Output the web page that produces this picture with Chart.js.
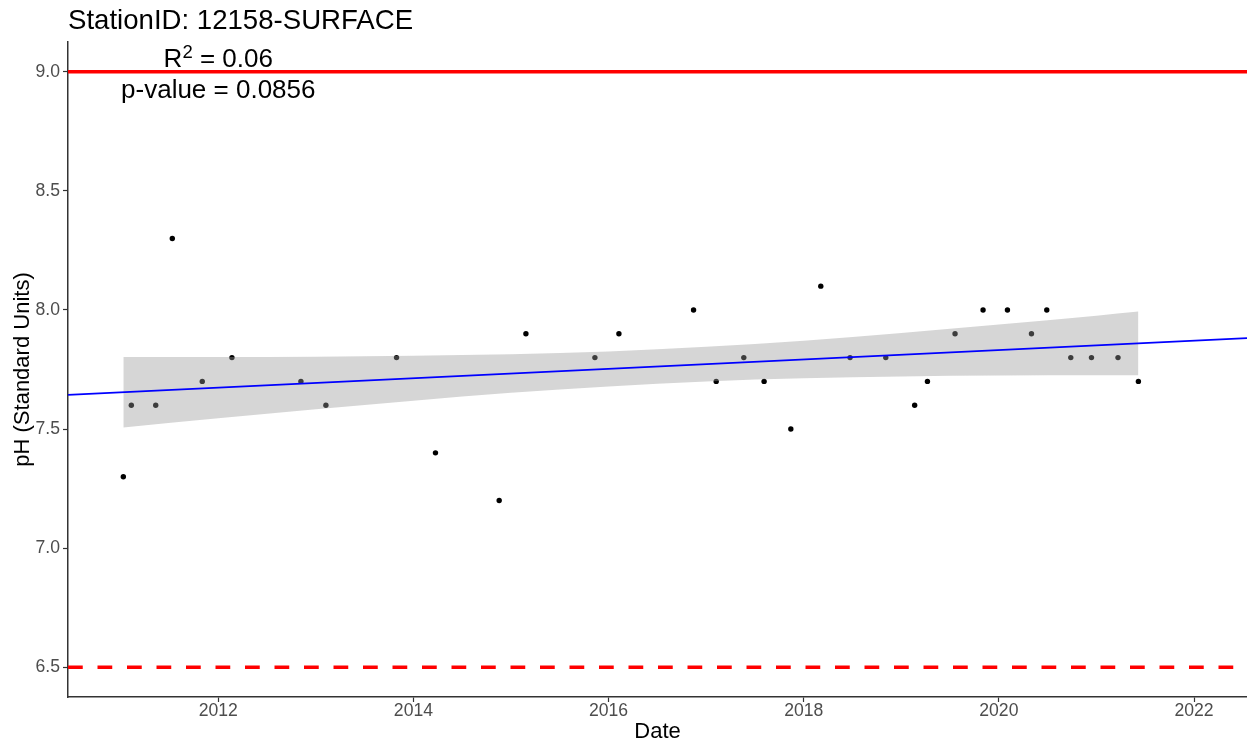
<!DOCTYPE html>
<html>
<head>
<meta charset="utf-8">
<script src="https://cdn.jsdelivr.net/npm/chart.js@4/dist/chart.umd.min.js"></script>
<style>
  html, body { margin: 0; padding: 0; background: #fff; overflow: hidden; }
  #wrap { width: 1247px; height: 748px; position: relative; }
  canvas { display: block; }
</style>
</head>
<body>
<div id="wrap"><canvas id="c" width="1247" height="748"></canvas></div>
<script>
// ---------- data ----------
const titleText = 'StationID: 12158-SURFACE';
const r2Text = '0.06';
const pValueText = '0.0856';
const annotX = 2012;

// sample dates (decimal years) and pH values
const sampleDates = [
  2011.027, 2011.109, 2011.359, 2011.529, 2011.836, 2012.140, 2012.847, 2013.103,
  2013.827, 2014.226, 2014.879, 2015.153, 2015.860, 2016.106, 2016.871, 2017.103,
  2017.386, 2017.594, 2017.868, 2018.175, 2018.475, 2018.841, 2019.137, 2019.268,
  2019.551, 2019.838, 2020.088, 2020.334, 2020.491, 2020.737, 2020.949, 2021.221,
  2021.430
];
const samplePH = [
  7.3, 7.6, 7.6, 8.3, 7.7, 7.8, 7.7, 7.6,
  7.8, 7.4, 7.2, 7.9, 7.8, 7.9, 8.0, 7.7,
  7.8, 7.7, 7.5, 8.1, 7.8, 7.8, 7.6, 7.7,
  7.9, 8.0, 8.0, 7.9, 8.0, 7.8, 7.8, 7.8,
  7.7
];

// regression line (end points read at plot edges)
const fitDates = [2010.46, 2022.543];
const fitPH = [7.6435, 7.8816];

// confidence band
const bandDates = [2011.027, 2012, 2013, 2014, 2015, 2016, 2017, 2018, 2019, 2020, 2021, 2021.43];
const bandUpper = [7.803, 7.803, 7.804, 7.808, 7.814, 7.826, 7.845, 7.871, 7.903, 7.939, 7.976, 7.993];
const bandLower = [7.506, 7.545, 7.583, 7.619, 7.652, 7.679, 7.700, 7.713, 7.721, 7.725, 7.726, 7.726];

// threshold lines
const upperLimit = 9.0;
const lowerLimit = 6.5;

// axes
const xRange = [2010.46, 2022.543];
const yRange = [6.375, 9.125];
const xTicks = [2012, 2014, 2016, 2018, 2020, 2022];
const yTicks = [6.5, 7.0, 7.5, 8.0, 8.5, 9.0];

// ---------- chart ----------
const FONT = '"Liberation Sans", Arial, Helvetica, sans-serif';
const toXY = (xs, ys) => xs.map((x, i) => ({ x: x, y: ys[i] }));

const textPlugin = {
  id: 'texts',
  afterDraw(chart) {
    const ctx = chart.ctx;
    const xs = chart.scales.x;
    ctx.save();
    ctx.fillStyle = '#000';
    ctx.textBaseline = 'alphabetic';
    ctx.textAlign = 'left';
    ctx.font = '27.6px ' + FONT;
    ctx.fillText(titleText, chart.chartArea.left, 29);

    const cx = xs.getPixelForValue(annotX);
    const big = '26px ' + FONT, small = '18.5px ' + FONT;
    ctx.font = big;
    const wR = ctx.measureText('R').width;
    const rest = ' = ' + r2Text;
    const wRest = ctx.measureText(rest).width;
    ctx.font = small;
    const w2 = ctx.measureText('2').width;
    let x0 = cx - (wR + w2 + wRest) / 2;
    const base1 = 67;
    ctx.font = big;
    ctx.fillText('R', x0, base1);
    ctx.font = small;
    ctx.fillText('2', x0 + wR, base1 - 9);
    ctx.font = big;
    ctx.fillText(rest, x0 + wR + w2, base1);

    ctx.textAlign = 'center';
    ctx.fillText('p-value = ' + pValueText, cx, 98);
    ctx.restore();
  }
};

const tickFont = { family: FONT, size: 17.6, lineHeight: 1 };

new Chart(document.getElementById('c'), {
  type: 'line',
  data: {
    datasets: [
      {
        label: 'upper limit', data: toXY(xRange, [upperLimit, upperLimit]),
        borderColor: '#ff0000', borderWidth: 3.6, pointRadius: 0, fill: false, order: 0
      },
      {
        label: 'lower limit', data: toXY(xRange, [lowerLimit, lowerLimit]),
        borderColor: '#ff0000', borderWidth: 3.6, borderDash: [14.75, 14.75], pointRadius: 0, fill: false, order: 0
      },
      {
        label: 'fit', data: toXY(fitDates, fitPH),
        borderColor: '#0000ff', borderWidth: 1.6, pointRadius: 0, fill: false, order: 1
      },
      {
        label: 'band upper', data: toXY(bandDates, bandUpper),
        borderColor: 'rgba(0,0,0,0)', borderWidth: 0, pointRadius: 0,
        backgroundColor: 'rgba(153,153,153,0.4)', fill: '+1',
        cubicInterpolationMode: 'monotone', order: 2
      },
      {
        label: 'band lower', data: toXY(bandDates, bandLower),
        borderColor: 'rgba(0,0,0,0)', borderWidth: 0, pointRadius: 0, fill: false,
        cubicInterpolationMode: 'monotone', order: 2
      },
      {
        label: 'pH', data: toXY(sampleDates, samplePH),
        showLine: false, pointRadius: 2.7, pointBorderWidth: 0, pointHoverRadius: 2.7,
        pointBackgroundColor: '#000', borderColor: '#000', fill: false, order: 3
      }
    ]
  },
  options: {
    responsive: false,
    animation: false,
    devicePixelRatio: 1,
    events: [],
    layout: { autoPadding: false, padding: { top: 42, left: 0, right: 0, bottom: 0 } },
    plugins: {
      legend: { display: false },
      tooltip: { enabled: false },
      title: { display: false }
    },
    scales: {
      x: {
        type: 'linear',
        min: xRange[0], max: xRange[1],
        afterBuildTicks: (s) => { s.ticks = xTicks.map(v => ({ value: v })); },
        afterFit: (s) => { s.height = 51; s.paddingLeft = 0; s.paddingRight = 0; },
        grid: { drawOnChartArea: false, drawTicks: true, tickLength: 5, color: '#333333', tickWidth: 1.2 },
        border: { display: true, color: '#333333', width: 1.5 },
        ticks: {
          font: tickFont, color: '#4d4d4d', padding: 0.5, maxRotation: 0,
          callback: (v) => String(v)
        },
        title: {
          display: true, text: 'Date', color: '#000',
          font: { family: FONT, size: 22, lineHeight: 1.2 },
          padding: { top: 0, bottom: 2.4 }
        }
      },
      y: {
        type: 'linear',
        min: yRange[0], max: yRange[1],
        afterBuildTicks: (s) => { s.ticks = yTicks.map(v => ({ value: v })); },
        afterFit: (s) => { s.width = 68; s.paddingTop = 0; s.paddingBottom = 0; },
        grid: { drawOnChartArea: false, drawTicks: true, tickLength: 5, color: '#333333', tickWidth: 1.2 },
        border: { display: true, color: '#333333', width: 1.5 },
        ticks: {
          font: tickFont, color: '#4d4d4d', padding: 3,
          callback: (v) => Number(v).toFixed(1)
        },
        title: {
          display: true, text: 'pH (Standard Units)', color: '#000',
          font: { family: FONT, size: 22, lineHeight: 1.2 },
          padding: { top: 10, bottom: 0 }
        }
      }
    }
  },
  plugins: [textPlugin]
});
</script>
</body>
</html>
